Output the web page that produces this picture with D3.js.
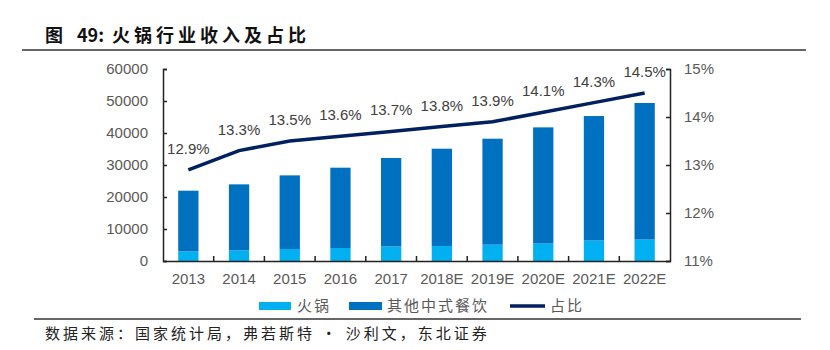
<!DOCTYPE html>
<html>
<head>
<meta charset="utf-8">
<script src="https://cdn.jsdelivr.net/npm/d3@7"></script>
<style>
  body { margin: 0; background: #fff; }
  svg { display: block; }
</style>
</head>
<body>
<div id="chart"></div>
<script>
// years on the x axis
const years = ["2013", "2014", "2015", "2016", "2017", "2018E", "2019E", "2020E", "2021E", "2022E"];
// 火锅 revenue (bottom of stack)
const hotpot = [3000, 3300, 3750, 4060, 4560, 4700, 5100, 5450, 6400, 6700];
// 其他中式餐饮 (top of stack)
const otherChinese = [18970, 20650, 23010, 25100, 27630, 30390, 33120, 36310, 38900, 42670];
// 占比 (%)
const share = [12.9, 13.3, 13.5, 13.6, 13.7, 13.8, 13.9, 14.1, 14.3, 14.5];
const leftTicks = [0, 10000, 20000, 30000, 40000, 50000, 60000];
const rightTicks = [11, 12, 13, 14, 15];

const W = 830, H = 350;
const plot = { left: 163, right: 670, top: 69, bottom: 261 };

const svg = d3.select("#chart").append("svg")
    .attr("width", W)
    .attr("height", H);

const cjk = "'Noto Sans CJK SC', 'Noto Sans', sans-serif";
const num = "'Liberation Sans', Arial, sans-serif";
const grey = "#595959";

// Title + rules
const title = svg.append("text")
    .attr("y", 42)
    .style("font-family", cjk)
    .style("font-weight", "bold")
    .style("font-size", "18px")
    .style("fill", "#111");
title.append("tspan").attr("x", 45).text("图");
title.append("tspan").attr("x", 77).text("49:");
title.append("tspan").attr("x", 112).style("letter-spacing", "4px").text("火锅行业收入及占比");

svg.append("line")
    .attr("x1", 22).attr("x2", 806)
    .attr("y1", 50).attr("y2", 50)
    .attr("stroke", "#666")
    .attr("stroke-width", 2);

svg.append("line")
    .attr("x1", 34).attr("x2", 801)
    .attr("y1", 319).attr("y2", 319)
    .attr("stroke", "#666")
    .attr("stroke-width", 2);

svg.append("text")
    .attr("x", 45)
    .attr("y", 339)
    .style("font-family", cjk)
    .style("font-size", "15px")
    .style("letter-spacing", "3px")
    .style("fill", "#222")
    .text("数据来源：国家统计局，弗若斯特 • 沙利文，东北证券");

// Scales
const x = d3.scaleBand()
    .domain(years)
    .range([plot.left, plot.right])
    .paddingInner(0.6)
    .paddingOuter(0.3);

const y = d3.scaleLinear()
    .domain([0, 60000])
    .range([plot.bottom, plot.top]);

const y2 = d3.scaleLinear()
    .domain([11, 15])
    .range([plot.bottom, plot.top]);

// Stacked bars
const rows = years.map((yr, i) => ({ year: yr, hotpot: hotpot[i], other: otherChinese[i] }));
const stack = d3.stack().keys(["hotpot", "other"])(rows);
const colors = { hotpot: "#00B0F0", other: "#0070C0" };

svg.append("g")
    .selectAll("g")
    .data(stack)
    .join("g")
    .attr("fill", d => colors[d.key])
    .selectAll("rect")
    .data(d => d)
    .join("rect")
    .attr("x", d => x(d.data.year))
    .attr("y", d => y(d[1]))
    .attr("width", x.bandwidth())
    .attr("height", d => y(d[0]) - y(d[1]));

// Axes
const gx = svg.append("g")
    .attr("transform", `translate(0,${plot.bottom})`)
    .call(d3.axisBottom(x).tickSize(0).tickPadding(12));
gx.select(".domain").attr("stroke", "#222").attr("stroke-width", 1.5);
gx.selectAll("text")
    .style("font-family", num)
    .style("font-size", "15px")
    .style("fill", grey);

// inward ticks on x axis, at band boundaries
const step = x.step();
svg.append("g")
    .selectAll("line")
    .data(years.slice(1))
    .join("line")
    .attr("x1", d => x(d) - (step - x.bandwidth()) / 2)
    .attr("x2", d => x(d) - (step - x.bandwidth()) / 2)
    .attr("y1", plot.bottom)
    .attr("y2", plot.bottom - 5)
    .attr("stroke", "#222")
    .attr("stroke-width", 1.5);

const gyl = svg.append("g")
    .attr("transform", `translate(${plot.left},0)`)
    .call(d3.axisLeft(y).tickValues(leftTicks).tickFormat(d3.format("d"))
        .tickSizeInner(-4).tickSizeOuter(-4).tickPadding(15));
gyl.selectAll("path, line").attr("stroke", "#222").attr("stroke-width", 1.5);
gyl.selectAll("text")
    .style("font-family", num)
    .style("font-size", "15px")
    .style("fill", grey);

const gyr = svg.append("g")
    .attr("transform", `translate(${plot.right},0)`)
    .call(d3.axisRight(y2).tickValues(rightTicks).tickFormat(d => d + "%")
        .tickSizeInner(-4).tickSizeOuter(-4).tickPadding(14));
gyr.selectAll("path, line").attr("stroke", "#222").attr("stroke-width", 1.5);
gyr.selectAll("text")
    .style("font-family", num)
    .style("font-size", "15px")
    .style("fill", grey);

// Share line
const cx = d => x(d) + x.bandwidth() / 2;
const line = d3.line()
    .x((d, i) => cx(years[i]))
    .y(d => y2(d));

svg.append("path")
    .datum(share)
    .attr("fill", "none")
    .attr("stroke", "#002060")
    .attr("stroke-width", 3.5)
    .attr("d", line);

svg.append("g")
    .selectAll("text")
    .data(share)
    .join("text")
    .attr("x", (d, i) => cx(years[i]))
    .attr("y", d => y2(d) - 16)
    .attr("text-anchor", "middle")
    .style("font-family", num)
    .style("font-size", "15px")
    .style("fill", "#404040")
    .text(d => d.toFixed(1) + "%");

// Legend
const legend = svg.append("g").style("font-family", cjk).style("font-size", "15px");
legend.append("rect").attr("x", 259).attr("y", 302).attr("width", 32).attr("height", 8).attr("fill", colors.hotpot);
legend.append("text").attr("x", 297).attr("y", 311).style("fill", grey).style("letter-spacing", "2px").text("火锅");
legend.append("rect").attr("x", 349).attr("y", 302).attr("width", 33).attr("height", 8).attr("fill", colors.other);
legend.append("text").attr("x", 387).attr("y", 311).style("fill", grey).style("letter-spacing", "2px").text("其他中式餐饮");
legend.append("line").attr("x1", 510).attr("x2", 545).attr("y1", 306).attr("y2", 306)
    .attr("stroke", "#002060").attr("stroke-width", 3.5);
legend.append("text").attr("x", 550).attr("y", 311).style("fill", grey).style("letter-spacing", "2px").text("占比");
</script>
</body>
</html>
